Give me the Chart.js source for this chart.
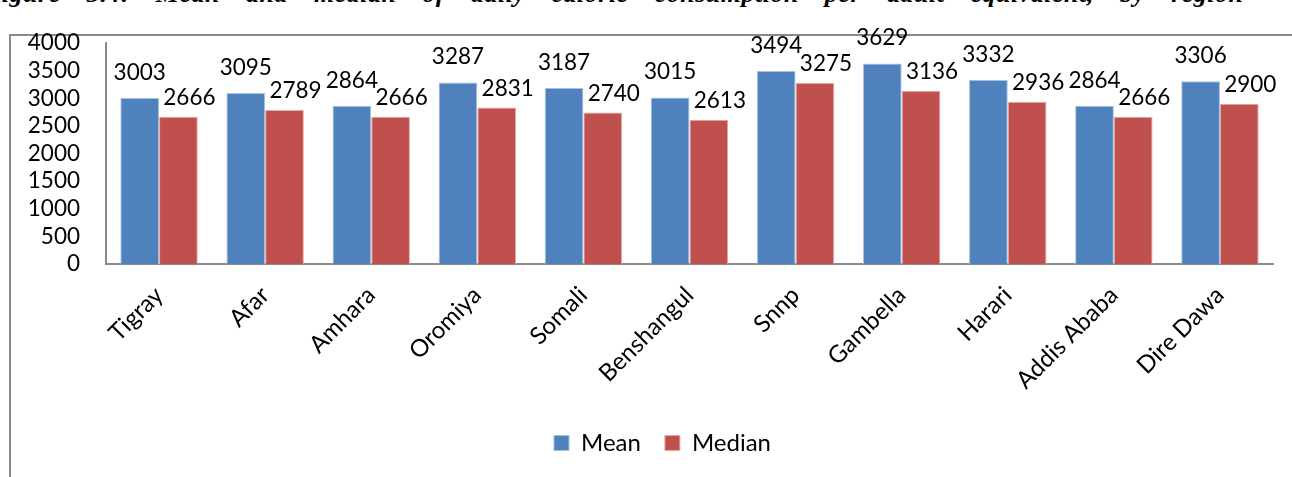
<!DOCTYPE html>
<html>
<head>
<meta charset="utf-8">
<script src="https://cdn.jsdelivr.net/npm/chart.js@4/dist/chart.umd.min.js"></script>
<style>
  html, body { margin: 0; padding: 0; background: #fff; overflow: hidden; }
  #wrap { position: relative; width: 1292px; height: 477px; overflow: hidden; }
  #caption {
    position: absolute; left: -16px; top: -21px; white-space: nowrap;
    font-family: "Liberation Serif", serif; font-weight: bold; font-style: italic;
    font-size: 26px; word-spacing: 19px; letter-spacing: 0.5px; color: #000;
  }
  #frame {
    position: absolute; left: 9px; top: 34px; width: 1300px; height: 460px;
    border-left: 2px solid #8a8a8a; border-top: 2px solid #8a8a8a;
  }
  #c { position: absolute; left: 0; top: 0; }
</style>
</head>
<body>
<div id="wrap">
  <div id="caption">Figure 3.4: Mean and median of daily calorie consumption per adult equivalent, by region</div>
  <div id="frame"></div>
  <canvas id="c" width="1292" height="477"></canvas>
</div>
<script>
const regions = ["Tigray", "Afar", "Amhara", "Oromiya", "Somali", "Benshangul",
                 "Snnp", "Gambella", "Harari", "Addis Ababa", "Dire Dawa"];
const meanKcal = [3003, 3095, 2864, 3287, 3187, 3015, 3494, 3629, 3332, 2864, 3306];
const medianKcal = [2666, 2789, 2666, 2831, 2740, 2613, 3275, 3136, 2936, 2666, 2900];
const yTicks = [0, 500, 1000, 1500, 2000, 2500, 3000, 3500, 4000];

const FONT = "Lato, 'Open Sans', sans-serif";

// Value labels drawn above each bar; the median labels sit slightly to the right
const valueLabels = {
  id: "valueLabels",
  afterDatasetsDraw(chart) {
    const ctx = chart.ctx;
    ctx.save();
    ctx.font = "22.5px " + FONT;
    ctx.fillStyle = "#000";
    ctx.textAlign = "center";
    ctx.textBaseline = "alphabetic";
    chart.data.datasets.forEach((ds, di) => {
      const meta = chart.getDatasetMeta(di);
      const dx = di === 0 ? 0 : 11;
      const dy = di === 0 ? 18 : 12;
      meta.data.forEach((bar, i) => {
        ctx.fillText(String(ds.data[i]), bar.x + dx, bar.y - dy);
      });
    });
    ctx.restore();
  }
};

// Nudge the legend row a little right of the canvas centre
const legendShift = {
  id: "legendShift",
  afterLayout(chart) {
    if (chart.legend) { chart.legend.left += 26; chart.legend.right += 26; }
  }
};

new Chart(document.getElementById("c"), {
  type: "bar",
  data: {
    labels: regions,
    datasets: [
      { label: "Mean", data: meanKcal, backgroundColor: "#4F81BD",
        borderColor: "#A7C0DE", borderWidth: 1 },
      { label: "Median", data: medianKcal, backgroundColor: "#C0504D",
        borderColor: "#E3A9A7", borderWidth: 1 }
    ]
  },
  options: {
    responsive: false,
    animation: false,
    devicePixelRatio: 1,
    layout: { padding: { left: 0, right: 19, top: 43, bottom: 12 } },
    datasets: { bar: { categoryPercentage: 0.73, barPercentage: 1.0 } },
    scales: {
      x: {
        grid: { display: false, drawTicks: false },
        border: { display: true, color: "#8a8a8a", width: 2 },
        ticks: { color: "#000", font: { family: FONT, size: 24 },
                 maxRotation: 45, minRotation: 45, padding: 17 },
        afterFit(scale) { scale.height = 143; }
      },
      y: {
        min: 0, max: 4000,
        afterBuildTicks(scale) { scale.ticks = yTicks.map(v => ({ value: v })); },
        grid: { display: false, drawTicks: false },
        border: { display: true, color: "#8a8a8a", width: 2 },
        ticks: { color: "#000", font: { family: FONT, size: 22.5 }, padding: 26,
                 autoSkip: false, callback: v => String(v) },
        afterFit(scale) { scale.width = 106; }
      }
    },
    plugins: {
      legend: {
        position: "bottom",
        labels: { color: "#000", font: { family: FONT, size: 24 },
                  boxWidth: 15, boxHeight: 15, padding: 24 }
      },
      tooltip: { enabled: false }
    }
  },
  plugins: [valueLabels, legendShift]
});
</script>
</body>
</html>
